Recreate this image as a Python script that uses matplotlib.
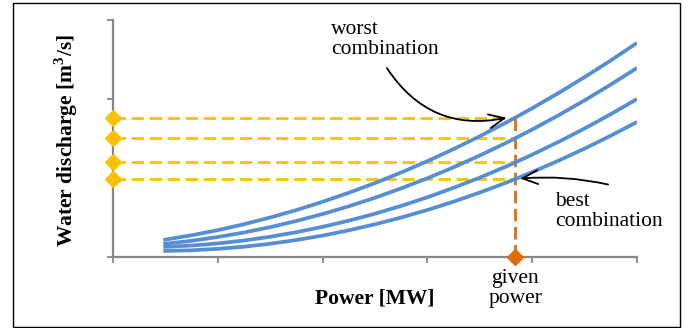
import numpy as np
import matplotlib
matplotlib.use("Agg")
import matplotlib.pyplot as plt
from matplotlib.patches import Rectangle, FancyArrowPatch

# power axis samples (MW, arbitrary units) and discharge of the 4 combinations
power = [0.48, 0.75, 1.0, 1.25, 1.5, 1.75, 2.0, 2.25, 2.5, 2.75, 3.0,
         3.25, 3.5, 3.75, 3.84, 4.0, 4.25, 4.5, 4.75, 5.0]
worst = [0.216, 0.275, 0.340, 0.415, 0.500, 0.594, 0.699, 0.813, 0.936, 1.070,
         1.213, 1.366, 1.529, 1.701, 1.765, 1.883, 2.075, 2.277, 2.488, 2.710]
comb2 = [0.165, 0.205, 0.253, 0.310, 0.378, 0.456, 0.544, 0.642, 0.750, 0.869,
         0.997, 1.136, 1.285, 1.444, 1.504, 1.614, 1.793, 1.983, 2.183, 2.393]
comb3 = [0.127, 0.145, 0.172, 0.209, 0.256, 0.314, 0.382, 0.460, 0.548, 0.647,
         0.756, 0.876, 1.005, 1.145, 1.198, 1.296, 1.456, 1.627, 1.808, 2.000]
best = [0.076, 0.085, 0.103, 0.130, 0.168, 0.215, 0.271, 0.338, 0.414, 0.500,
        0.595, 0.701, 0.816, 0.940, 0.988, 1.075, 1.219, 1.372, 1.536, 1.709]
curves = [worst, comb2, comb3, best]

given_power = 3.84
given_q = [1.765, 1.504, 1.198, 0.988]

blue = "#558ED5"
yellow = "#FFC000"
orange = "#E36C09"
gray = "#868686"
serif = ["Liberation Serif", "DejaVu Serif"]

fig = plt.figure(figsize=(6.99, 3.28), dpi=100)
ax = fig.add_axes([113 / 699, 71 / 328, 524 / 699, 237 / 328])

for c in curves:
    ax.plot(power, c, color=blue, lw=2.7, solid_capstyle="butt", zorder=3)

# dashed helper lines to the y axis
for q in given_q:
    ax.plot([0, given_power], [q, q], color=yellow, lw=2.0,
            linestyle=(0, (4.5, 2)), zorder=2)
    ax.plot([0], [q], marker="D", color=yellow, markersize=8,
            clip_on=False, zorder=4)

# given power line
ax.plot([given_power, given_power], [0, max(given_q)], color=orange, lw=2.0,
        linestyle=(0, (4.5, 2)), zorder=2)
ax.plot([given_power], [0], marker="D", color=orange, markersize=8,
        clip_on=False, zorder=5)

ax.set_xlim(0, 5)
ax.set_ylim(0, 3)
ax.set_xticks(range(6))
ax.set_yticks(range(4))
ax.set_xticklabels([])
ax.set_yticklabels([])
ax.tick_params(direction="out", length=4, width=1.3, color=gray)
for s in ["top", "right"]:
    ax.spines[s].set_visible(False)
for s in ["left", "bottom"]:
    ax.spines[s].set_color(gray)
    ax.spines[s].set_linewidth(1.6)

fs = 15.5
ax.text(2.5, -0.52, "Power [MW]", family=serif, fontsize=fs, weight="bold",
        ha="center", va="center", clip_on=False)
ax.text(-0.45, 1.47, "Water discharge [m$^\\mathregular{3}$/s]", family=serif,
        fontsize=fs, weight="bold", rotation=90, ha="center", va="center",
        clip_on=False)

ax.text(2.08, 3.0, "worst\ncombination", family=serif, fontsize=fs,
        ha="left", va="top", linespacing=1.05, clip_on=False)
ax.text(4.22, 0.82, "best\ncombination", family=serif, fontsize=fs,
        ha="left", va="top", linespacing=1.05, clip_on=False)
ax.text(given_power, -0.15, "given\npower", family=serif, fontsize=fs,
        ha="center", va="top", linespacing=1.05, clip_on=False)

a1 = FancyArrowPatch((2.6, 2.42), (3.78, 1.77), arrowstyle="->,head_length=11,head_width=5",
                     connectionstyle="arc3,rad=0.35", color="black", lw=1.3,
                     mutation_scale=1, zorder=6)
ax.add_patch(a1)
a2 = FancyArrowPatch((4.75, 0.91), (3.86, 0.99), arrowstyle="->,head_length=11,head_width=5",
                     connectionstyle="arc3,rad=0.08", color="black", lw=1.3,
                     mutation_scale=1, zorder=6)
ax.add_patch(a2)

# frame around the figure
fig.patches.append(Rectangle((13 / 699, 0.002), 667 / 699, 0.99, transform=fig.transFigure,
                             fill=False, edgecolor="black", lw=1.0))

fig.savefig("out.png", dpi=100)
